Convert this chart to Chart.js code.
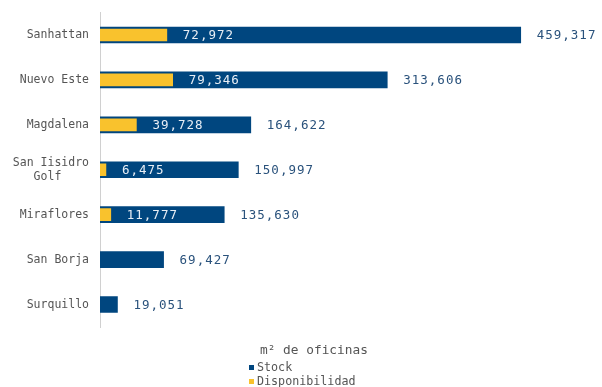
<!DOCTYPE html>
<html>
<head>
<meta charset="utf-8">
<script src="https://cdn.jsdelivr.net/npm/chart.js@4.4.1/dist/chart.umd.min.js"></script>
<style>
    body { margin: 0; background: #fff; }
    #wrap { position: relative; width: 602px; height: 387px; }
    .lg { position: absolute; font-family: "DejaVu Sans Mono", monospace; color: #555; white-space: nowrap; }
    .sw { display: inline-block; width: 5px; height: 5px; margin-right: 3px; vertical-align: middle; }
</style>
</head>
<body>
<div id="wrap">
    <canvas id="chart"></canvas>
    <div class="lg" style="left:260px; top:342px; font-size:12.8px;">m² de oficinas</div>
    <div class="lg" style="left:249px; top:360px; font-size:11.7px;"><span class="sw" style="background:#00467f"></span>Stock</div>
    <div class="lg" style="left:249px; top:374px; font-size:11.7px;"><span class="sw" style="background:#f9c22d"></span>Disponibilidad</div>
</div>
<script>
const categories = ["Sanhattan", "Nuevo Este", "Magdalena", ["San Iisidro", "Golf    "], "Miraflores", "San Borja", "Surquillo"];
const stock = [459317, 313606, 164622, 150997, 135630, 69427, 19051];
const disponibilidad = [72972, 79346, 39728, 6475, 11777, null, null];

const BLUE = "#00467f";
const YELLOW = "#f9c22d";

function fmt(v) {
    return v.toLocaleString("en-US");
}

// value labels: stock outside the bar, disponibilidad inside the blue bar
const value_labels = {
    id: "value_labels",
    afterDatasetsDraw(chart) {
        const ctx = chart.ctx;
        ctx.save();
        ctx.font = "12.5px 'DejaVu Sans Mono', monospace";
        ctx.letterSpacing = "1px";
        ctx.textBaseline = "middle";
        ctx.textAlign = "left";
        chart.data.datasets.forEach((ds, di) => {
            const meta = chart.getDatasetMeta(di);
            meta.data.forEach((bar, i) => {
                const v = ds.data[i];
                if (v == null) return;
                ctx.fillStyle = (ds.label == "Stock") ? "#2a527c" : "#e8eef5";
                ctx.fillText(fmt(v), bar.x + 16, bar.y + 1);
            });
        });
        ctx.restore();
    }
};

const ctx = document.getElementById("chart").getContext("2d");
const chart = new Chart(ctx, {
    type: "bar",
    data: {
        labels: categories,
        datasets: [
            {
                label: "Disponibilidad",
                data: disponibilidad,
                backgroundColor: YELLOW,
                barThickness: 12,
                grouped: false,
                order: 1,
            },
            {
                label: "Stock",
                data: stock,
                backgroundColor: BLUE,
                barThickness: 16,
                grouped: false,
                order: 2,
            },
        ],
    },
    options: {
        indexAxis: "y",
        responsive: true,
        maintainAspectRatio: false,
        animation: false,
        layout: {
            padding: { top: 12.5, bottom: 60, left: 0, right: 44 },
        },
        plugins: {
            legend: { display: false },
            tooltip: { enabled: false },
        },
        scales: {
            x: {
                display: false,
                min: 0,
                max: 500000,
            },
            y: {
                afterFit(scale) {
                    scale.width = 100;
                    scale.paddingTop = 0;
                    scale.paddingBottom = 0;
                },
                grid: { display: false, drawTicks: false },
                border: { display: true, color: "#d0d0d0", width: 1 },
                ticks: {
                    padding: 11,
                    color: "#555",
                    font: { family: "'DejaVu Sans Mono', monospace", size: 11.5 },
                },
            },
        },
    },
    plugins: [value_labels],
});
</script>
</body>
</html>
